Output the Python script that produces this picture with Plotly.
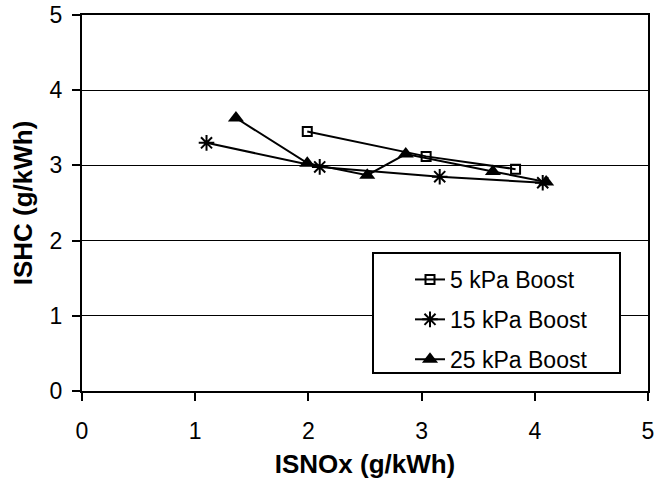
import plotly.graph_objects as go

x5 = [1.99, 3.04, 3.83]
y5 = [3.45, 3.12, 2.95]
x15 = [1.10, 2.10, 3.16, 4.07]
y15 = [3.30, 2.98, 2.85, 2.77]
x25 = [1.36, 1.99, 2.52, 2.86, 3.63, 4.10]
y25 = [3.63, 3.03, 2.87, 3.15, 2.92, 2.78]

names = ["5 kPa Boost", "15 kPa Boost", "25 kPa Boost"]

fig = go.Figure()
fig.add_trace(go.Scatter(x=x5, y=y5, name=names[0], mode="lines+markers", legendgroup="a",
                         line=dict(color="black", width=2),
                         marker=dict(symbol="square-open", size=9, color="black", line=dict(width=2))))
fig.add_trace(go.Scatter(x=x15, y=y15, name=names[1], mode="lines+markers", legendgroup="b",
                         line=dict(color="black", width=2),
                         marker=dict(symbol="asterisk-open", size=13, color="black", line=dict(width=2, color="black"))))
fig.add_trace(go.Scatter(x=x25, y=y25, name=names[2], mode="lines+markers", legendgroup="c",
                         line=dict(color="black", width=2),
                         marker=dict(symbol="triangle-up", size=14, color="black")))

font = "Liberation Sans, Arial, sans-serif"
L, R, T, B = 82, 648, 15, 391
W, H = 655, 483
pw, ph = R - L, B - T

# legend frame
fig.add_shape(type="rect", xref="paper", yref="paper",
              x0=(373 - L) / pw, x1=(620 - L) / pw,
              y0=(B - 373) / ph, y1=(B - 253) / ph,
              line=dict(color="black", width=2), fillcolor="white", layer="above")

fig.update_layout(
    width=W, height=H,
    margin=dict(l=L, r=W - R, t=T, b=H - B, pad=0, autoexpand=False),
    paper_bgcolor="white", plot_bgcolor="white",
    font=dict(family=font, size=23, color="black"),
    legend=dict(x=(410 - L) / pw, y=(B - 258) / ph, xanchor="left", yanchor="top",
                bgcolor="rgba(0,0,0,0)", borderwidth=0,
                font=dict(size=23), tracegroupgap=7, traceorder="grouped", itemwidth=30),
    showlegend=True,
)
fig.update_xaxes(range=[0, 5], dtick=1, tick0=0, showgrid=False, zeroline=False,
                 showline=True, linecolor="black", linewidth=2, mirror=True,
                 ticks="outside", ticklen=8, tickwidth=2, tickcolor="black",
                 tickfont=dict(size=23), ticklabelstandoff=10, automargin=False,
                 title=dict(text="<b>ISNOx (g/kWh)</b>", font=dict(size=26), standoff=12))
fig.update_yaxes(range=[0, 5], dtick=1, tick0=0, showgrid=True, gridcolor="black", gridwidth=1,
                 zeroline=False,
                 showline=True, linecolor="black", linewidth=2, mirror=True,
                 ticks="outside", ticklen=8, tickwidth=2, tickcolor="black",
                 tickfont=dict(size=23), ticklabelstandoff=5, automargin=False,
                 title=dict(text="<b>ISHC (g/kWh)</b>", font=dict(size=26), standoff=10))

fig.write_html("out.html")
